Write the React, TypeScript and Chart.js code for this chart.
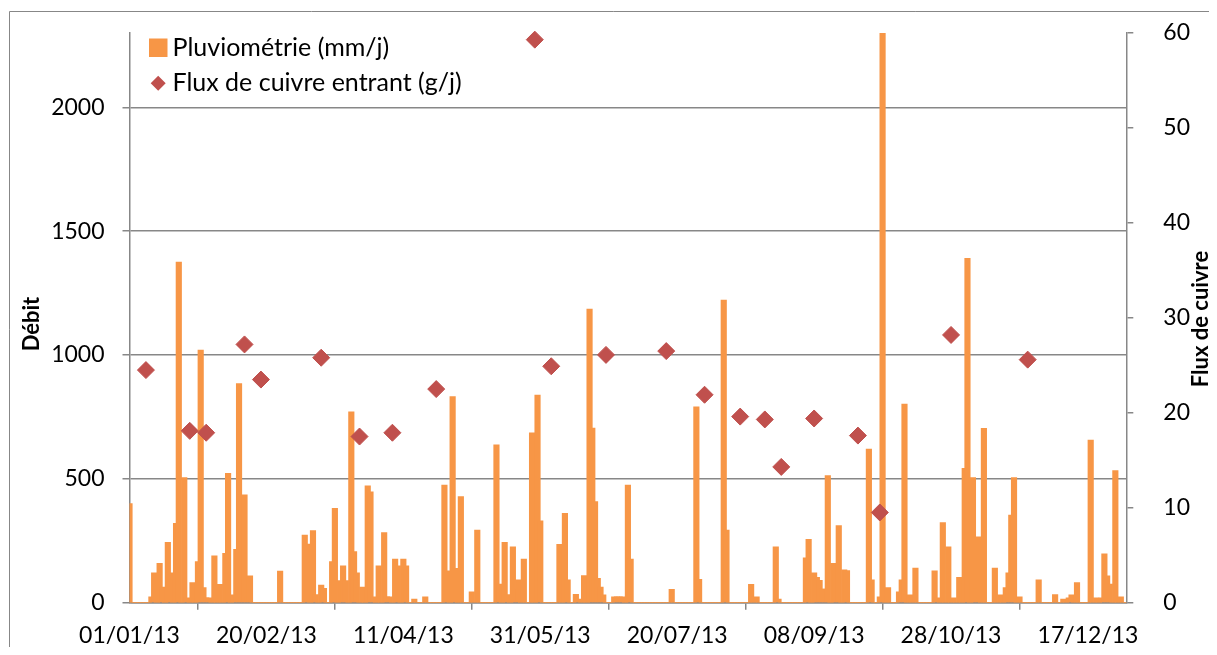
import React, { useEffect, useRef } from 'react';
import { Chart, registerables } from 'chart.js';

Chart.register(...registerables);

// ---- Data ----
const START_DATE = '2013-01-01';
const xTickDays = [0, 50, 100, 150, 200, 250, 300, 350];
const leftTicks = [0, 500, 1000, 1500, 2000];
const rightTicks = [0, 10, 20, 30, 40, 50, 60];

const rainLabel = 'Pluviométrie (mm/j)';
const fluxLabel = 'Flux de cuivre entrant (g/j)';
const leftTitle = 'Débit';
const rightTitle = 'Flux de cuivre';

// daily values, one per day from 01/01/13 to 31/12/13
const rainfall = [
  400, 0, 0, 0, 0, 0, 0, 0, 24, 121,
  0, 159, 63, 0, 244, 121, 0, 320, 1375, 0,
  505, 20, 0, 81, 0, 166, 1020, 61, 20, 20,
  0, 189, 0, 74, 0, 199, 522, 0, 32, 215,
  885, 20, 435, 20, 108, 0, 0, 0, 0, 0,
  0, 0, 0, 0, 0, 128, 0, 0, 0, 0,
  0, 0, 0, 0, 273, 237, 0, 291, 33, 0,
  71, 58, 0, 0, 166, 381, 0, 89, 149, 89,
  0, 771, 206, 121, 0, 63, 0, 472, 448, 24,
  0, 149, 0, 283, 24, 24, 0, 176, 149, 0,
  176, 149, 0, 0, 15, 0, 0, 0, 24, 0,
  0, 0, 0, 0, 0, 475, 129, 0, 832, 139,
  0, 428, 0, 0, 0, 44, 0, 293, 0, 0,
  0, 0, 0, 0, 637, 75, 0, 244, 33, 0,
  226, 54, 92, 0, 176, 0, 0, 686, 0, 838,
  331, 0, 0, 0, 0, 0, 0, 236, 0, 361,
  92, 0, 0, 34, 15, 0, 109, 0, 1185, 705,
  408, 98, 63, 32, 0, 0, 0, 24, 24, 24,
  24, 0, 475, 176, 0, 0, 0, 0, 0, 0,
  0, 0, 0, 0, 0, 0, 0, 0, 54, 0,
  0, 0, 0, 0, 0, 0, 0, 791, 94, 0,
  0, 0, 0, 0, 0, 0, 0, 1222, 293, 0,
  0, 0, 0, 0, 0, 0, 0, 74, 0, 24,
  0, 0, 0, 0, 0, 0, 226, 15, 0, 0,
  0, 0, 0, 0, 0, 0, 0, 181, 256, 0,
  121, 102, 90, 55, 55, 513, 0, 159, 150, 311,
  0, 133, 130, 0, 0, 0, 0, 0, 0, 0,
  620, 92, 0, 0, 24, 2600, 0, 61, 0, 0,
  0, 44, 92, 802, 0, 32, 0, 140, 0, 0,
  0, 0, 0, 0, 129, 20, 0, 323, 0, 226,
  0, 20, 0, 102, 0, 542, 1390, 0, 505, 55,
  266, 0, 704, 0, 0, 0, 140, 0, 32, 0,
  61, 121, 354, 505, 0, 24, 0, 0, 0, 0,
  0, 0, 92, 0, 0, 0, 0, 0, 33, 0,
  0, 15, 0, 20, 32, 0, 81, 0, 0, 0,
  0, 657, 0, 20, 0, 20, 197, 108, 75, 0,
  533, 0, 24, 0, 0,
];

const fluxDates = [
  '2013-01-07', '2013-01-23', '2013-01-29', '2013-02-12', '2013-02-18',
  '2013-03-12', '2013-03-26', '2013-04-07', '2013-04-23', '2013-05-29',
  '2013-06-04', '2013-06-24', '2013-07-16', '2013-07-30', '2013-08-12',
  '2013-08-21', '2013-08-27', '2013-09-08', '2013-09-24', '2013-10-02',
  '2013-10-28', '2013-11-25',
];
const fluxValues = [
  24.5, 18.1, 17.9, 27.2, 23.5,
  25.8, 17.5, 17.9, 22.5, 59.3,
  24.9, 26.1, 26.5, 21.9, 19.6,
  19.3, 14.3, 19.4, 17.6, 9.5,
  28.2, 25.6,
];

// ---- Helpers ----
const DAY_MS = 86400000;
const dayIndex = (iso: string) => Math.round((Date.parse(iso) - Date.parse(START_DATE)) / DAY_MS);
const fmtDay = (d: number) => {
  const dt = new Date(Date.parse(START_DATE) + d * DAY_MS);
  const dd = String(dt.getUTCDate()).padStart(2, '0');
  const mm = String(dt.getUTCMonth() + 1).padStart(2, '0');
  const yy = String(dt.getUTCFullYear() % 100).padStart(2, '0');
  return `${dd}/${mm}/${yy}`;
};

const ORANGE = '#F79646';
const RED = '#C0504D';
const GRID = '#878787';
const FONT = 'Lato';

const W = 1209;
const H = 639;
const AREA = { left: 121.5, right: 1118.3, top: 25, bottom: 594.7 };

const decorPlugin = {
  id: 'decor',
  beforeDraw(chart: any) {
    const ctx = chart.ctx;
    ctx.save();
    ctx.fillStyle = '#ffffff';
    ctx.fillRect(0, 0, chart.width, chart.height);
    ctx.strokeStyle = GRID;
    ctx.lineWidth = 1;
    ctx.beginPath();
    ctx.moveTo(1.5, chart.height);
    ctx.lineTo(1.5, 3.5);
    ctx.lineTo(chart.width, 3.5);
    ctx.stroke();
    ctx.restore();
  },
  afterDraw(chart: any) {
    const ctx = chart.ctx;
    ctx.save();
    // legend
    ctx.fillStyle = ORANGE;
    ctx.fillRect(141, 30.5, 18.5, 18.5);
    ctx.fillStyle = RED;
    ctx.beginPath();
    ctx.moveTo(150.2, 67.8);
    ctx.lineTo(157.7, 75.3);
    ctx.lineTo(150.2, 82.8);
    ctx.lineTo(142.7, 75.3);
    ctx.closePath();
    ctx.fill();
    ctx.fillStyle = '#000';
    ctx.font = `25px ${FONT}`;
    ctx.textAlign = 'left';
    ctx.textBaseline = 'alphabetic';
    ctx.fillText(rainLabel, 164.5, 47.5);
    ctx.fillText(fluxLabel, 164.5, 83);
    // axis titles
    ctx.font = `bold 22px ${FONT}`;
    ctx.textAlign = 'center';
    ctx.textBaseline = 'middle';
    ctx.save();
    ctx.translate(24, 316);
    ctx.rotate(-Math.PI / 2);
    ctx.fillText(leftTitle, 0, 0);
    ctx.restore();
    ctx.save();
    ctx.translate(1193, 311);
    ctx.rotate(-Math.PI / 2);
    ctx.fillText(rightTitle, 0, 0);
    ctx.restore();
    ctx.restore();
  },
};

export default function App() {
  const ref = useRef<HTMLCanvasElement>(null);

  useEffect(() => {
    if (!ref.current) return;
    Chart.defaults.font.family = FONT;
    Chart.defaults.font.size = 23;
    Chart.defaults.color = '#000';

    const barData = rainfall.map((v, i) => ({ x: i, y: v }));
    const fluxData = fluxDates.map((d, i) => ({ x: dayIndex(d), y: fluxValues[i] }));

    const chart = new Chart(ref.current, {
      type: 'bar',
      data: {
        datasets: [
          {
            type: 'scatter',
            label: fluxLabel,
            data: fluxData,
            yAxisID: 'y1',
            xAxisID: 'x',
            backgroundColor: RED,
            borderColor: RED,
            borderWidth: 1,
            pointStyle: 'rectRot',
            pointRadius: 8.5,
            clip: false,
            order: 1,
          } as any,
          {
            type: 'bar',
            label: rainLabel,
            data: barData,
            yAxisID: 'y',
            xAxisID: 'x',
            backgroundColor: ORANGE,
            borderWidth: 0,
            barThickness: 5.5,
            clip: 0,
            order: 2,
          } as any,
        ],
      },
      options: {
        responsive: false,
        animation: false,
        layout: { padding: { top: AREA.top, left: 0, right: 0, bottom: 0 } },
        plugins: {
          legend: { display: false },
          tooltip: { enabled: false },
        },
        scales: {
          x: {
            type: 'linear',
            min: 0,
            max: 364,
            offset: false,
            afterBuildTicks: (s: any) => {
              s.ticks = xTickDays.map((v) => ({ value: v }));
            },
            afterFit: (s: any) => {
              s.height = H - AREA.bottom;
              s.paddingLeft = 0;
              s.paddingRight = 0;
            },
            ticks: {
              autoSkip: false,
              maxRotation: 0,
              padding: 12,
              color: '#000',
              callback: (v: any) => fmtDay(Number(v)),
            },
            grid: {
              drawOnChartArea: false,
              drawTicks: true,
              tickLength: 7,
              color: GRID,
              lineWidth: 1.5,
            },
            border: { display: true, color: GRID, width: 1.5 },
          },
          y: {
            type: 'linear',
            position: 'left',
            min: 0,
            max: 2300,
            afterBuildTicks: (s: any) => {
              s.ticks = leftTicks.map((v) => ({ value: v }));
            },
            afterFit: (s: any) => {
              s.width = AREA.left;
              s.paddingTop = 0;
              s.paddingBottom = 0;
            },
            ticks: { padding: 18, color: '#000', callback: (v: any) => String(v) },
            grid: { color: GRID, lineWidth: 1.5, tickLength: 7 },
            border: { display: true, color: GRID, width: 1.5 },
          },
          y1: {
            type: 'linear',
            position: 'right',
            min: 0,
            max: 60,
            afterBuildTicks: (s: any) => {
              s.ticks = rightTicks.map((v) => ({ value: v }));
            },
            afterFit: (s: any) => {
              s.width = W - AREA.right;
              s.paddingTop = 0;
              s.paddingBottom = 0;
            },
            ticks: { padding: 30, color: '#000', callback: (v: any) => String(v) },
            grid: { drawOnChartArea: false, color: GRID, lineWidth: 1.5, tickLength: 7 },
            border: { display: true, color: GRID, width: 1.5 },
          },
        },
      } as any,
      plugins: [decorPlugin],
    });
    return () => chart.destroy();
  }, []);

  return (
    <div style={{ width: W, height: H }}>
      <canvas ref={ref} width={W} height={H} style={{ display: 'block' }} />
    </div>
  );
}
